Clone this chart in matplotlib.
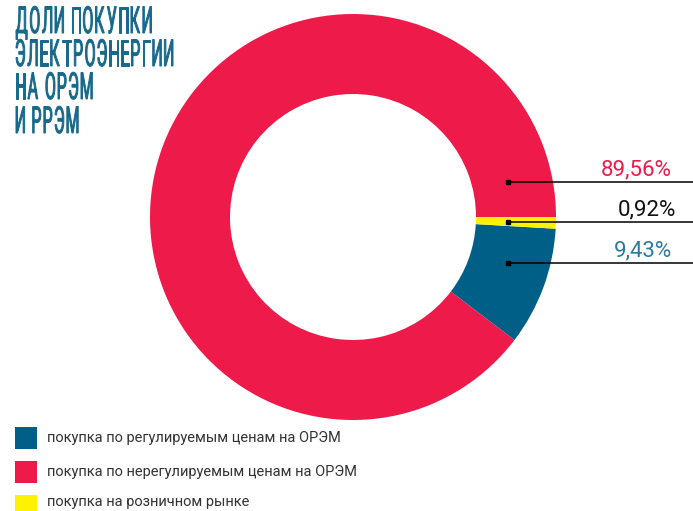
import matplotlib
matplotlib.use('Agg')
import matplotlib.pyplot as plt
from matplotlib.textpath import TextPath, text_to_path
from matplotlib.patches import PathPatch, Rectangle
from matplotlib.font_manager import FontProperties
from matplotlib.transforms import Affine2D

# --- данные ---------------------------------------------------------------
shares = [89.56, 9.43, 0.92]
share_labels = ['89,56%', '9,43%', '0,92%']
legend_labels = [
    'покупка по регулируемым ценам на ОРЭМ',
    'покупка по нерегулируемым ценам на ОРЭМ',
    'покупка на розничном рынке',
]
title_lines = ['ДОЛИ ПОКУПКИ', 'ЭЛЕКТРОЭНЕРГИИ', 'НА ОРЭМ', 'И РРЭМ']

RED = '#ee1b4a'
BLUE = '#005f87'
YELLOW = '#fff200'
TITLE_C = '#17698c'

W, H = 693, 511
fig = plt.figure(figsize=(W / 100, H / 100), dpi=100)
ax = fig.add_axes([0, 0, 1, 1])

# --- кольцевая диаграмма --------------------------------------------------
cx, cy, R = 353, H - 217, 203
ax.pie(shares, colors=[RED, BLUE, YELLOW], startangle=0, counterclock=True,
       center=(cx, cy), radius=R, wedgeprops=dict(width=80, linewidth=0),
       frame=True)
ax.set_xlim(0, W)
ax.set_ylim(0, H)
ax.set_aspect('auto')
ax.axis('off')

# --- выноски --------------------------------------------------------------
line_y = [182, 263, 222]          # от верхнего края, в порядке shares
text_colors = [RED, '#2a7ca4', '#111111']
text_right = [672, 672, 676]
for y, lab, col, xr in zip(line_y, share_labels, text_colors, text_right):
    yy = H - y
    ax.plot([508, W], [yy, yy], color='black', lw=1.1, solid_capstyle='butt')
    ax.plot([508], [yy], marker='s', ms=3.5, color='black')
    ax.text(xr, yy + 7, lab, ha='right', va='baseline', fontsize=16,
            color=col, family=['Roboto', 'DejaVu Sans'])

# --- заголовок: узкие буквы по одной, с разрядкой ------------------------
fp = FontProperties(family='Roboto', weight='normal', size=100)


def ink_w(c):
    ex = TextPath((0, 0), c, prop=fp).get_extents()
    return ex.x1 - ex.x0


ref = TextPath((0, 0), 'Н', prop=fp).get_extents()
sy = 26.5 / ref.height
track = 3.0
space_w = 5.0
longest = title_lines[1]
sx = (173 - 16 - track * (len(longest) - 1)) / sum(ink_w(c) for c in longest)
baselines = [33, 66, 99, 133]
for s, b in zip(title_lines, baselines):
    x = 16
    for c in s:
        if c == ' ':
            x += space_w
            continue
        tp = TextPath((0, 0), c, prop=fp)
        ex = tp.get_extents()
        tr = Affine2D().translate(-ex.x0, 0).scale(sx, sy).translate(x, H - b)
        ax.add_patch(PathPatch(tr.transform_path(tp), facecolor=TITLE_C,
                               edgecolor=TITLE_C, lw=0.7))
        x += (ex.x1 - ex.x0) * sx + track

# --- легенда --------------------------------------------------------------
leg_colors = [BLUE, RED, YELLOW]
leg_top = [427, 461, 495]
leg_text_y = [438, 472, 502]
for lab, col, t, ty in zip(legend_labels, leg_colors, leg_top, leg_text_y):
    ax.add_patch(Rectangle((15, H - t - 22), 22, 22, facecolor=col, lw=0))
    ax.text(47, H - ty, lab, ha='left', va='center', fontsize=10.5,
            color='#333333', family=['Roboto', 'DejaVu Sans'])

fig.savefig('out.png', dpi=100)
